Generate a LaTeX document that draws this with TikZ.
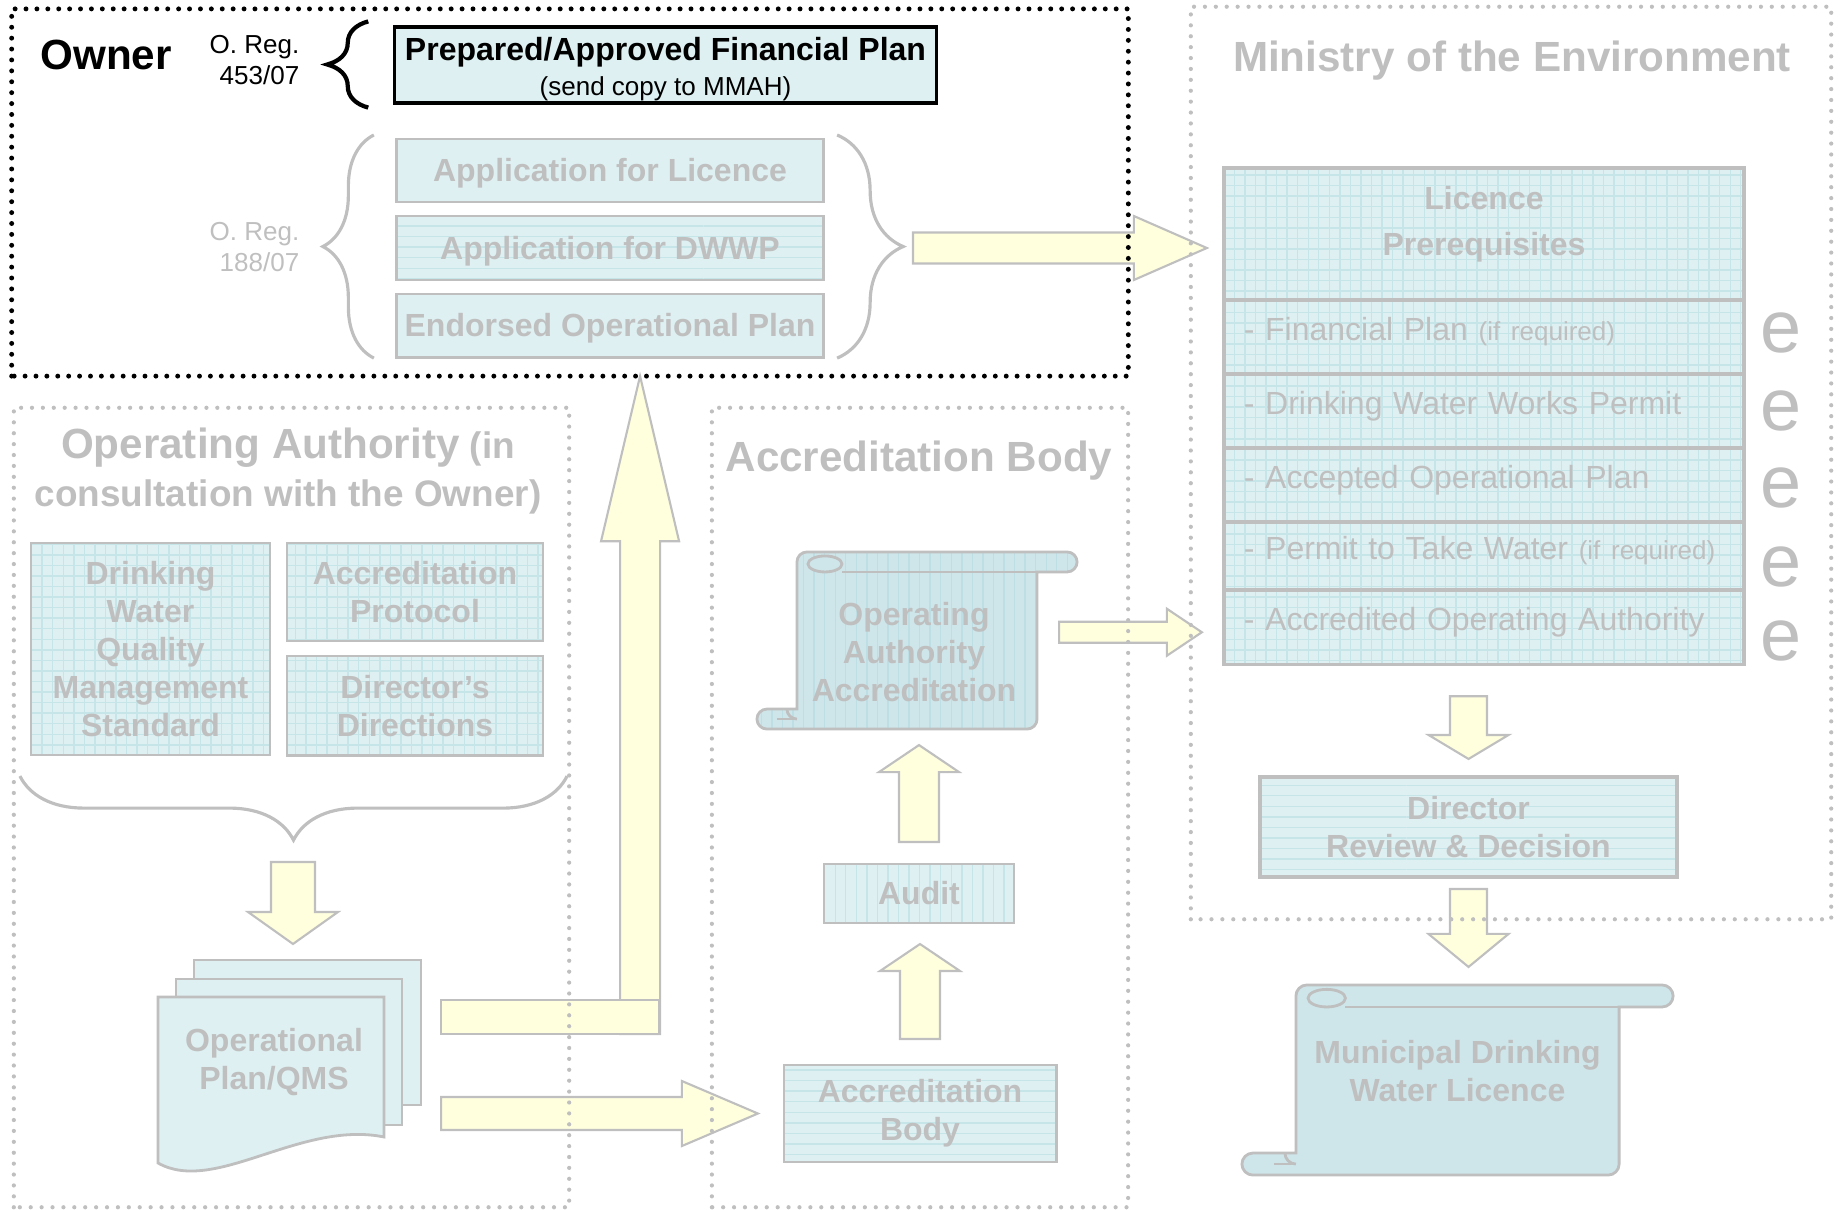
\documentclass[tikz,border=0pt]{standalone}
\usepackage{fontspec}
\setmainfont{Liberation Sans}
\usepackage{xcolor}
\usetikzlibrary{positioning, calc, patterns, decorations.pathreplacing}

\definecolor{ghost}{RGB}{191,191,191}
\definecolor{boxfill}{RGB}{222,240,242}
\definecolor{scrollblue}{RGB}{206,230,234}
\definecolor{gridline}{RGB}{198,229,233}
\definecolor{stripeline}{RGB}{188,222,228}
\definecolor{arrowyellow}{RGB}{255,255,222}

\newcommand{\ttlfont}{\fontsize{12}{14}\selectfont\bfseries}
\newcommand{\oafont}{\fontsize{10.5}{13.4}\selectfont\bfseries}
\newcommand{\boxfont}{\fontsize{9.1}{10.8}\selectfont\bfseries}
\newcommand{\rowfont}{\fontsize{9.1}{10.8}\selectfont}
\newcommand{\smallfont}{\fontsize{7.4}{8.8}\selectfont}
\newcommand{\efont}{\fontsize{21}{21}\selectfont}

\tikzstyle{dotframe} = [draw=ghost, line width=1.2pt, dash pattern=on 0pt off 3.1pt, line cap=round]
\tikzstyle{ownerdots} = [dotframe, draw=black, line width=1.4pt]
\tikzstyle{area} = [rectangle, inner sep=0pt, outer sep=0pt]
\tikzstyle{ghosttext} = [text=ghost, align=center, inner sep=0pt]
\tikzstyle{ghostbox} = [rectangle, draw=ghost, line width=0.8pt, fill=boxfill, text=ghost, font=\boxfont, align=center, inner sep=0pt, outer sep=0pt]
\tikzstyle{oneline} = [text height=0.22cm, text depth=0pt]
\tikzstyle{gridbox} = [ghostbox, preaction={fill=boxfill}, pattern=grid, pattern color=gridline]
\tikzstyle{hlinebox} = [ghostbox, preaction={fill=boxfill}, pattern=horizontal lines, pattern color=gridline]
\tikzstyle{vlinebox} = [ghostbox, preaction={fill=boxfill}, pattern=vertical lines, pattern color=gridline]
\tikzstyle{prereq} = [gridbox, font=\rowfont, line width=1pt, minimum width=5.2cm, text width=4.8cm, inner xsep=0.2cm, align=left, text height=0.25cm, text depth=0.19cm]
\tikzstyle{eglyph} = [text=ghost, font=\efont, inner sep=0pt]
\tikzstyle{arrowbody} = [draw=ghost, line width=0.6pt, fill=arrowyellow, line join=miter]
\tikzstyle{scrollfill} = [draw=ghost, line width=0.8pt, fill=scrollblue]
\tikzstyle{stripedscroll} = [scrollfill, preaction={fill=scrollblue}, pattern=vertical lines, pattern color=stripeline]
\tikzstyle{scrollline} = [draw=ghost, line width=0.8pt]
\tikzstyle{docfill} = [draw=ghost, line width=0.8pt, fill=boxfill]
\tikzset{ghostbrace/.style={draw=ghost, line width=0.9pt, decorate, decoration={brace, amplitude=#1}}}
\tikzstyle{blackbrace} = [draw=black, line width=1.2pt, decorate, decoration={brace, amplitude=0.41cm}]

% block arrow: start, end, body half width, head half width, head length
\newcommand{\fatarrow}[5]{%
  \coordinate (fa-s) at (#1);
  \coordinate (fa-e) at (#2);
  \coordinate (fa-h) at ($(fa-e)!#5!(fa-s)$);
  \draw[arrowbody] ($(fa-s)!#3!90:(fa-e)$) -- ($(fa-h)!#3!-90:(fa-s)$) -- ($(fa-h)!#4!-90:(fa-s)$)
    -- (fa-e) -- ($(fa-h)!#4!90:(fa-s)$) -- ($(fa-h)!#3!90:(fa-s)$) -- ($(fa-s)!#3!-90:(fa-e)$) -- cycle;
}

% scroll drawn round a body node: style, node, roll extension, roll radius
\newcommand{\scrollbg}[4][scrollfill]{%
  \draw[#1] ($(#2.north west)+(0,-#4)$) arc[start angle=180, end angle=90, radius=#4*0.01cm]
    -- ($(#2.north east)+(#3-#4,0)$) arc[start angle=90, end angle=-90, radius=#4*0.01cm]
    -- ($(#2.north east)+(0,-2*#4)$) -- ($(#2.south east)+(0,#4)$)
    arc[start angle=0, end angle=-90, radius=#4*0.01cm]
    -- ($(#2.south west)+(-#3+#4,0)$) arc[start angle=270, end angle=90, radius=#4*0.01cm]
    -- ($(#2.south west)+(0,2*#4)$) -- cycle;
  \draw[scrollfill] ($(#2.north west)+(2.8*#4,-1.2*#4)$) ellipse [x radius=1.7*#4*0.01cm, y radius=0.8*#4*0.01cm];
  \draw[scrollline] ($(#2.north west)+(4.5*#4,-2*#4)$) -- ($(#2.north east)+(0,-2*#4)$);
  \draw[scrollline] ($(#2.south west)+(-2*#4,#4)$) -- ($(#2.south west)+(0,#4)$);
  \draw[scrollline] ($(#2.south west)+(-#4,2*#4)$) arc[start angle=180, end angle=270, radius=#4*0.01cm];
}

\begin{document}
\begin{tikzpicture}[x=0.01cm, y=0.01cm]
\useasboundingbox (0,0) rectangle (1843,-1209);

% group areas (dots drawn last)
\node[area, minimum width=11.16cm, minimum height=3.67cm] (ownerframe) at (570,-192.5) {};
\node[area, minimum width=6.40cm, minimum height=9.12cm] (moeframe) at (1511,-463) {};
\node[area, minimum width=5.55cm, minimum height=7.99cm] (oaframe) at (291.5,-807.5) {};
\node[area, minimum width=4.16cm, minimum height=7.99cm] (abframe) at (920,-807.5) {};

% titles
\node[font=\ttlfont, inner sep=0pt] (ownertitle) at (106,-55) {Owner};
\node[font=\smallfont, align=right, anchor=east, inner sep=0pt] (reg453) at (300,-60) {O. Reg.\\453/07};
\node[font=\smallfont, align=right, anchor=east, inner sep=0pt, text=ghost] (reg188) at (300,-247) {O. Reg.\\188/07};
\node[ghosttext, font=\ttlfont] (moetitle) at (1512,-61) {Ministry of the Environment};
\node[ghosttext, font=\oafont] (oatitle) at (288,-471) {{\ttlfont Operating Authority} (in\\consultation with the Owner)};
\node[ghosttext, font=\ttlfont] (abtitle) at (919,-461) {Accreditation Body};

% owner
\node[rectangle, draw=black, line width=0.9pt, fill=boxfill, minimum width=5.41cm, minimum height=0.76cm, inner sep=0pt] (finplan) at (665.5,-65) {};
\node[align=center, inner sep=0pt, font={\fontsize{9.1}{10}\selectfont}] (finplantext) at ($(finplan.center)+(0,-4)$) {{\bfseries Prepared/Approved Financial Plan}\\{\smallfont (send copy to MMAH)}};
\node[ghostbox, oneline, minimum width=4.26cm, minimum height=0.63cm] (applic) at (610,-170.5) {Application for Licence};
\node[hlinebox, oneline, minimum width=4.26cm, minimum height=0.64cm, below=0.14cm of applic] (appdwwp) {Application for DWWP};
\node[ghostbox, oneline, minimum width=4.26cm, minimum height=0.63cm, below=0.14cm of appdwwp] (endorsed) {Endorsed Operational Plan};
\draw[blackbrace] ($(finplan.south west)+(-25,-3)$) -- ($(finplan.north west)+(-25,4)$);
\draw[ghostbrace=0.51cm] ($(endorsed.south west)+(-23,-1)$) -- ($(applic.north west)+(-23,4)$);
\draw[ghostbrace=0.66cm] ($(applic.north east)+(14,4)$) -- ($(endorsed.south east)+(14,-1)$);
\coordinate (bracetip) at (903,-248);

% ministry
\node[gridbox, line width=1pt, minimum width=5.2cm, minimum height=1.32cm] (hdr) at (1484,-234) {};
\node[ghosttext, font=\boxfont] (hdrtext) at ($(hdr.center)+(0,10)$) {Licence\\[0.08cm]Prerequisites};
\node[prereq, minimum height=0.74cm, below=0pt of hdr] (fin) {- Financial Plan {\smallfont (if required)}};
\node[prereq, minimum height=0.74cm, below=0pt of fin] (dwwp) {- Drinking Water Works Permit};
\node[prereq, minimum height=0.74cm, below=0pt of dwwp] (accplan) {- Accepted Operational Plan};
\node[prereq, minimum height=0.68cm, below=0pt of accplan] (ptw) {- Permit to Take Water {\smallfont (if required)}};
\node[prereq, minimum height=0.74cm, below=0pt of ptw] (accop) {- Accredited Operating Authority};
\node[eglyph] (e1) at (1781,-333) {e};
\node[eglyph] (e2) at (1781,-411) {e};
\node[eglyph] (e3) at (1781,-488) {e};
\node[eglyph] (e4) at (1781,-567) {e};
\node[eglyph] (e5) at (1781,-641) {e};
\node[hlinebox, line width=1.3pt, minimum width=4.17cm, minimum height=1.0cm] (director) at (1468.5,-827) {Director\\Review \& Decision};
\node[area, minimum width=3.23cm, minimum height=1.90cm] (lic) at (1457.5,-1080) {};
\scrollbg{lic}{54}{11}
\node[ghosttext, font=\boxfont] (lictext) at ($(lic.center)+(0,9)$) {Municipal Drinking\\Water Licence};

% operating authority
\node[gridbox, minimum width=2.39cm, minimum height=2.12cm] (dwqms) at (150.5,-649) {Drinking\\Water\\Quality\\Management\\Standard};
\node[gridbox, minimum width=2.56cm, minimum height=0.98cm] (accprot) at (415,-592) {Accreditation\\Protocol};
\node[gridbox, minimum width=2.56cm, minimum height=0.99cm, below=0.15cm of accprot] (dirdir) {Director’s\\Directions};
\draw[ghostbrace=0.64cm] ($(dirdir.south east)+(24,-21)$) -- ($(dwqms.south west)+(-11,-21)$);
\coordinate (oatip) at (293,-840);
\node[area, minimum width=2.26cm, minimum height=1.26cm] (opl) at (271,-1060) {};
\draw[docfill] ($(opl.north west)+(36,37)$) rectangle ($(opl.north east)+(37,-108)$);
\draw[docfill] ($(opl.north west)+(18,18)$) rectangle ($(opl.north east)+(18,-128)$);
\draw[docfill] (opl.north west) -- ($(opl.north west)+(0,-166)$)
  .. controls ($(opl.north west)+(57,-198)$) and ($(opl.north east)+(-84,-123)$) .. ($(opl.north east)+(0,-140)$)
  -- (opl.north east) -- cycle;
\node[ghosttext, font=\boxfont] (opltext) at ($(opl.center)+(3,-2)$) {Operational\\Plan/QMS};

% accreditation body
\node[area, minimum width=2.40cm, minimum height=1.77cm] (oaa) at (917,-640.5) {};
\scrollbg[stripedscroll]{oaa}{40}{10}
\node[ghosttext, font=\boxfont] (oaatext) at ($(oaa.center)+(-3,-12)$) {Operating\\Authority\\Accreditation};
\node[vlinebox, minimum width=1.9cm, minimum height=0.59cm] (audit) at (919,-893.5) {Audit};
\node[hlinebox, minimum width=2.72cm, minimum height=0.97cm] (accbody) at (920,-1113.5) {Accreditation\\Body};

% block arrows
\fatarrow{$(bracetip)+(10,0)$}{$(bracetip -| hdr.west)+(-17,0)$}{0.155cm}{0.32cm}{0.73cm}
\fatarrow{$(oaa.east |- accop.west)+(22,-5)$}{$(accop.west)+(-22,-5)$}{0.105cm}{0.235cm}{0.35cm}
\fatarrow{$(director.north |- accop.south)+(0,-32)$}{$(director.north)+(0,18)$}{0.185cm}{0.40cm}{0.24cm}
\fatarrow{$(director.south)+(0,-12)$}{$(director.south |- lic.north)+(0,18)$}{0.185cm}{0.40cm}{0.33cm}
\fatarrow{$(oatip)+(0,-22)$}{$(oatip |- opl.north)+(0,53)$}{0.22cm}{0.45cm}{0.32cm}
\fatarrow{$(opl.east |- accbody.west)+(57,0)$}{$(accbody.west)+(-26,0)$}{0.165cm}{0.325cm}{0.76cm}
\coordinate (bend) at ($(opl.east)+(256,26)$);
\fatarrow{bend}{bend |- ownerframe.south}{0.20cm}{0.39cm}{1.65cm}
\draw[arrowbody] ($(opl.east |- bend)+(57,0)$) rectangle ($(bend)+(19,34)$);
\fatarrow{$(accbody.north)+(0,26)$}{$(accbody.north |- audit.south)+(0,-21)$}{0.20cm}{0.40cm}{0.27cm}
\fatarrow{$(audit.north)+(0,22)$}{$(audit.north |- oaa.south)+(0,-16)$}{0.20cm}{0.40cm}{0.27cm}

% dotted group borders
\draw[ownerdots] (ownerframe.south west) rectangle (ownerframe.north east);
\draw[dotframe] (moeframe.south west) rectangle (moeframe.north east);
\draw[dotframe] (oaframe.south west) rectangle (oaframe.north east);
\draw[dotframe] (abframe.south west) rectangle (abframe.north east);
\end{tikzpicture}
\end{document}
